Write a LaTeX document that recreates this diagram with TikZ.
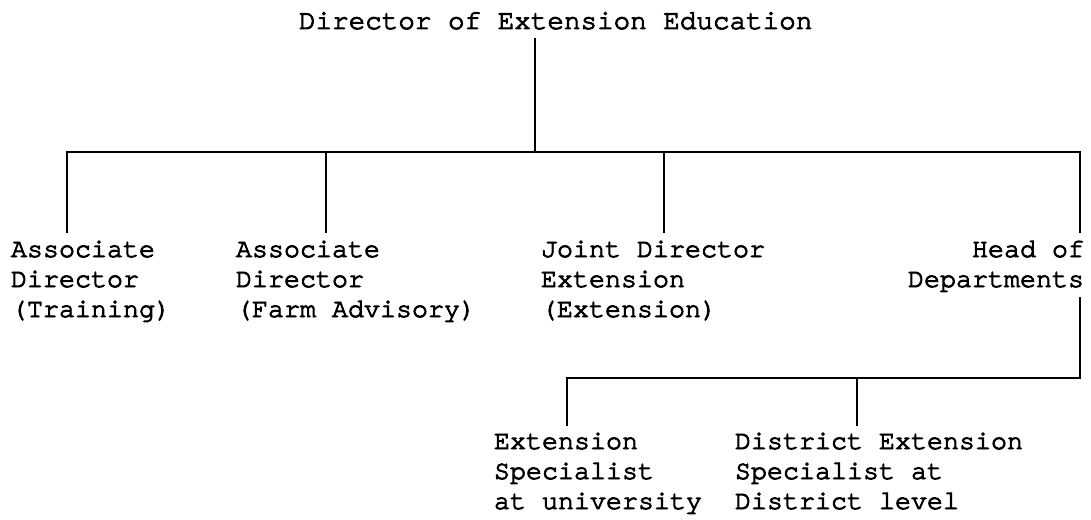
\documentclass[tikz,border=0pt]{standalone}
\usepackage{fontspec}
\setmonofont{TeX Gyre Cursor}[FakeBold=3.5]
\newcommand{\fl}{\rule{0pt}{15pt}}
\begin{document}
\begin{tikzpicture}[x=0.75pt,y=-0.75pt,
  lbl/.style={inner sep=0pt,outer sep=0pt,font={\ttfamily\fontsize{20}{22.5}\selectfont}},
  ttl/.style={inner sep=0pt,outer sep=0pt,font={\ttfamily\fontsize{20.7}{24}\selectfont}},
  conn/.style={line width=1.1pt,line cap=rect}]
\useasboundingbox (0,0) rectangle (1091,520);
% title
\node[ttl,anchor=north west] (dir) at (299,9) {\fl Director of Extension Education};
\coordinate (dirb) at (535,39);
% level 2
\node[lbl,anchor=north west,align=left] (ad1) at (11,237) {\fl Associate\\Director\\(Training)};
\node[lbl,anchor=north west,align=left] (ad2) at (236,237) {\fl Associate\\Director\\(Farm Advisory)};
\node[lbl,anchor=north west,align=left] (jd) at (541,237) {\fl Joint Director\\Extension\\(Extension)};
\node[lbl,anchor=north east,align=right] (hd) at (1084,237) {\fl Head of\\Departments};
% level 3
\node[lbl,anchor=north west,align=left] (es) at (494,429) {\fl Extension\\Specialist\\at university};
\node[lbl,anchor=north west,align=left] (ds) at (735,429) {\fl District Extension\\Specialist at\\District level};
% bus coordinates
\coordinate (busL) at (67,152);
\coordinate (busM) at (535,152);
\coordinate (busR) at (1080,152);
\coordinate (t1) at (67,232);
\coordinate (t2) at (326,232);
\coordinate (t3) at (664,232);
\coordinate (t4) at (1080,232);
\coordinate (hb) at (1080,298);
\coordinate (lowR) at (1080,378);
\coordinate (lowL) at (567,378);
\coordinate (lowM) at (857,378);
\coordinate (b1) at (567,425);
\coordinate (b2) at (857,425);
% connectors
\draw[conn] (dirb) -- (busM);
\draw[conn] (busL) -- (busR);
\draw[conn] (busL) -- (t1);
\draw[conn] (t2 |- busL) -- (t2);
\draw[conn] (t3 |- busL) -- (t3);
\draw[conn] (busR) -- (t4);
\draw[conn] (hb) -- (lowR) -- (lowL) -- (b1);
\draw[conn] (lowM) -- (b2);
\end{tikzpicture}
\end{document}
